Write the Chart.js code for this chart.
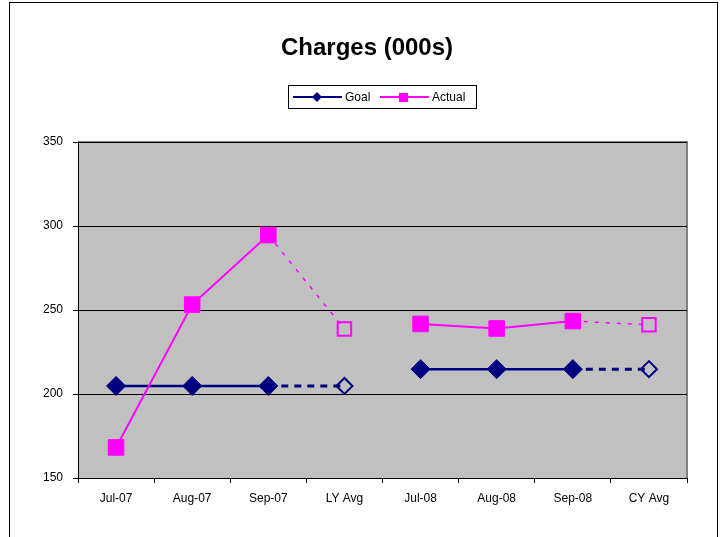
<!DOCTYPE html>
<html>
<head>
<meta charset="utf-8">
<script src="https://cdn.jsdelivr.net/npm/chart.js@4/dist/chart.umd.min.js"></script>
<style>
  html, body { margin: 0; padding: 0; background: #fff; }
  #wrap { width: 723px; height: 537px; }
</style>
</head>
<body>
<div id="wrap"><canvas id="chart" width="723" height="537"></canvas></div>
<script>
const categories = ["Jul-07", "Aug-07", "Sep-07", "LY Avg", "Jul-08", "Aug-08", "Sep-08", "CY Avg"];
const goalValues = [204.8, 204.8, 204.8, 204.8, 214.8, 214.8, 214.8, 214.8];
const actualValues = [168.2, 253.2, 294.6, 238.7, 241.7, 239.0, 243.4, 241.2];
const yTicks = [150, 200, 250, 300, 350];

const avgIdx = [3, 7];
const NAVY = "#000080";
const PINK = "#FF00FF";
const FONT = "'Liberation Sans', Arial, sans-serif";

// which segments are the dashed lead-in to an average point, which are the break
const toAvg = (ctx) => avgIdx.includes(ctx.p1DataIndex);
const isBreak = (ctx) => ctx.p0DataIndex === 3;

// plot background, outer frame, title and legend in Excel style
const excelFrame = {
  id: "excelFrame",
  beforeDraw(chart) {
    const { ctx, chartArea: a } = chart;
    ctx.save();
    ctx.fillStyle = "#fff";
    ctx.fillRect(0, 0, chart.width, chart.height);
    ctx.strokeStyle = "#000";
    ctx.lineWidth = 1;
    ctx.strokeRect(9.5, 2.5, 708, 560);
    ctx.fillStyle = "#C0C0C0";
    ctx.fillRect(a.left, a.top, a.right - a.left, a.bottom - a.top);
    ctx.strokeStyle = "#808080";
    ctx.lineWidth = 2;
    ctx.beginPath();
    ctx.moveTo(a.left, a.top);
    ctx.lineTo(a.right, a.top);
    ctx.lineTo(a.right, a.bottom);
    ctx.stroke();
    ctx.restore();
  },
  afterDraw(chart) {
    const { ctx } = chart;
    ctx.save();
    ctx.fillStyle = "#000";
    ctx.font = "bold 24px " + FONT;
    ctx.textAlign = "center";
    ctx.textBaseline = "alphabetic";
    ctx.fillText("Charges (000s)", 367, 55);

    // legend
    ctx.strokeStyle = "#000";
    ctx.lineWidth = 1;
    ctx.strokeRect(288.5, 85.5, 188, 23);
    const y = 97;
    ctx.lineWidth = 2;
    ctx.strokeStyle = NAVY;
    ctx.beginPath(); ctx.moveTo(293, y); ctx.lineTo(342, y); ctx.stroke();
    ctx.fillStyle = NAVY;
    ctx.beginPath();
    ctx.moveTo(317, y - 5); ctx.lineTo(322, y); ctx.lineTo(317, y + 5); ctx.lineTo(312, y);
    ctx.closePath(); ctx.fill();
    ctx.strokeStyle = PINK;
    ctx.beginPath(); ctx.moveTo(380, y); ctx.lineTo(429, y); ctx.stroke();
    ctx.fillStyle = PINK;
    ctx.fillRect(399, y - 4, 9, 9);
    ctx.fillStyle = "#000";
    ctx.font = "12px " + FONT;
    ctx.textAlign = "left";
    ctx.textBaseline = "middle";
    ctx.fillText("Goal", 345, y + 1);
    ctx.fillText("Actual", 432, y + 1);
    ctx.restore();
  }
};

new Chart(document.getElementById("chart"), {
  type: "line",
  data: {
    labels: categories,
    datasets: [
      {
        label: "Goal",
        data: goalValues,
        order: 1,
        borderColor: NAVY,
        borderWidth: 2.5,
        tension: 0,
        pointStyle: "rectRot",
        pointRadius: goalValues.map((v, i) => (avgIdx.includes(i) ? 8 : 9.5)),
        pointBorderWidth: goalValues.map((v, i) => (avgIdx.includes(i) ? 2 : 1)),
        pointBorderColor: NAVY,
        pointBackgroundColor: goalValues.map((v, i) => (avgIdx.includes(i) ? "rgba(0,0,0,0)" : NAVY)),
        segment: {
          borderColor: (ctx) => (isBreak(ctx) ? "rgba(0,0,0,0)" : undefined),
          borderDash: (ctx) => (toAvg(ctx) ? [7, 6] : undefined),
          borderWidth: (ctx) => (toAvg(ctx) ? 3 : undefined),
        },
      },
      {
        label: "Actual",
        data: actualValues,
        order: 0,
        borderColor: PINK,
        borderWidth: 2,
        tension: 0,
        pointStyle: "rect",
        pointRadius: actualValues.map((v, i) => (avgIdx.includes(i) ? 9.5 : 11)),
        pointBorderWidth: actualValues.map((v, i) => (avgIdx.includes(i) ? 2 : 1)),
        pointBorderColor: PINK,
        pointBackgroundColor: actualValues.map((v, i) => (avgIdx.includes(i) ? "rgba(0,0,0,0)" : PINK)),
        segment: {
          borderColor: (ctx) => (isBreak(ctx) ? "rgba(0,0,0,0)" : undefined),
          borderDash: (ctx) => (toAvg(ctx) ? [4, 7] : undefined),
          borderWidth: (ctx) => (toAvg(ctx) ? 1.5 : undefined),
        },
      },
    ],
  },
  options: {
    responsive: false,
    animation: false,
    layout: { padding: { top: 142, left: 18, right: 36, bottom: 29 } },
    plugins: {
      legend: { display: false },
      title: { display: false },
      tooltip: { enabled: false },
    },
    scales: {
      x: {
        offset: true,
        afterFit: (s) => { s.height = 30; },
        grid: { display: true, drawOnChartArea: false, offset: true, color: "#000", tickLength: 5 },
        border: { color: "#000", width: 1 },
        ticks: { color: "#000", font: { family: FONT, size: 12 }, padding: 8, maxRotation: 0 },
      },
      y: {
        min: 150,
        max: 350,
        afterFit: (s) => { s.width = 60; },
        afterBuildTicks: (s) => { s.ticks = yTicks.map((v) => ({ value: v })); },
        grid: { color: "#000", lineWidth: 1, tickLength: 5 },
        border: { color: "#000", width: 1 },
        ticks: { color: "#000", font: { family: FONT, size: 12 }, padding: 10 },
      },
    },
  },
  plugins: [excelFrame],
});
</script>
</body>
</html>
